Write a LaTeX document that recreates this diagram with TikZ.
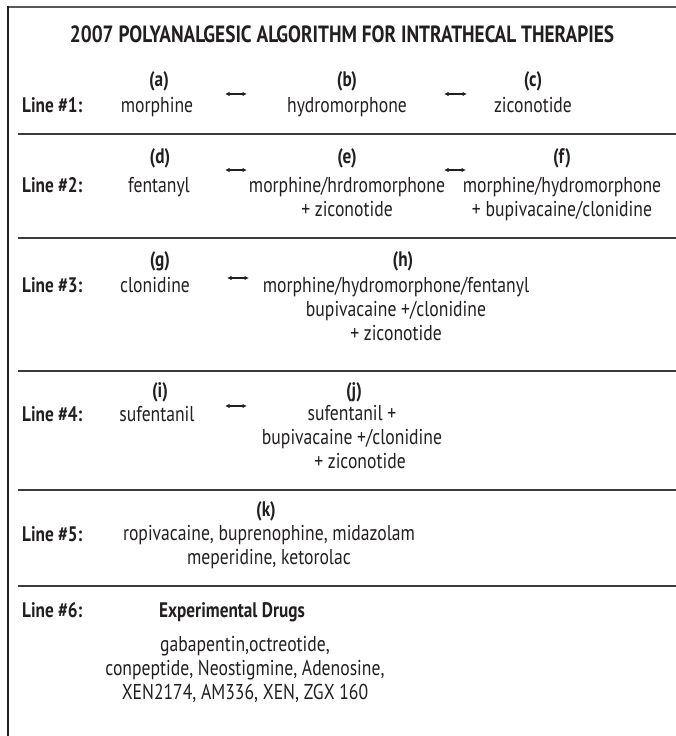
\documentclass[tikz,border=0pt]{standalone}
\usepackage{fontspec}
\setmainfont{PT Sans}[FakeStretch=0.82]
\usetikzlibrary{arrows.meta}
\definecolor{ink}{HTML}{231F20}
\definecolor{rulegray}{HTML}{3A3A3A}
\definecolor{framegray}{HTML}{5A5A5A}
\tikzset{
  txt/.style={text=ink, inner sep=0pt, align=center, font=\fontsize{21.5}{24}\selectfont},
  headline/.style={txt, anchor=base, font=\fontsize{23.5}{26}\selectfont\bfseries},
  linelabel/.style={txt, anchor=base west, font=\fontsize{21}{24}\selectfont\bfseries},
  tag/.style={txt, anchor=base, font=\fontsize{21}{24}\selectfont\bfseries},
  drug/.style={txt, anchor=base},
  drugs/.style={txt, anchor=north},
  swap/.style={{Latex[length=4.5pt,width=4.5pt]}-{Latex[length=4.5pt,width=4.5pt]}, line width=1.2pt, draw=ink},
  sep/.style={draw=rulegray, line width=1.3pt},
}
\begin{document}
\begin{tikzpicture}[x=1pt,y=-1pt]
  \useasboundingbox (0,0) rectangle (676,736);
  % outer frame (open at the right and bottom)
  \draw[framegray, line width=1.6pt] (676,7) -- (8,7);
  \draw[ink, line width=1.6pt] (8,6.2) -- (8,736);

  % title
  \node[headline] (title) at (342,42) {2007 POLYANALGESIC ALGORITHM FOR INTRATHECAL THERAPIES};

  % line 1
  \node[linelabel] (l1) at (22,112) {Line \#1:};
  \node[tag] (a) at (159,86) {(a)};
  \node[drug] (an) at (157,112) {morphine};
  \node[tag] (b) at (347,86) {(b)};
  \node[drug] (bn) at (347,112) {hydromorphone};
  \node[tag] (c) at (533,86) {(c)};
  \node[drug] (cn) at (533,112) {ziconotide};
  \coordinate (ab1) at (225,94); \coordinate (ab2) at (247,94);
  \coordinate (bc1) at (444,94); \coordinate (bc2) at (467,94);
  \draw[swap] (ab1) -- (ab2);
  \draw[swap] (bc1) -- (bc2);
  \draw[sep] (18,134) -- (676,134);

  % line 2
  \node[linelabel] (l2) at (22,192) {Line \#2:};
  \node[tag] (d) at (160,163) {(d)};
  \node[drug] (dn) at (159,192) {fentanyl};
  \node[tag] (e) at (347,163) {(e)};
  \node[drugs] (en) at (347,176.5) {morphine/hrdromorphone\\+ ziconotide};
  \node[tag] (f) at (562,163) {(f)};
  \node[drugs] (fn) at (562,176.5) {morphine/hydromorphone\\+ bupivacaine/clonidine};
  \coordinate (de1) at (225,170); \coordinate (de2) at (247,170);
  \coordinate (ef1) at (444,170); \coordinate (ef2) at (466,170);
  \draw[swap] (de1) -- (de2);
  \draw[swap] (ef1) -- (ef2);
  \draw[sep] (18,238) -- (676,238);

  % line 3
  \node[linelabel] (l3) at (22,292) {Line \#3:};
  \node[tag] (g) at (160,266) {(g)};
  \node[drug] (gn) at (155,292) {clonidine};
  \node[tag] (h) at (403,266) {(h)};
  \node[drugs] (hn) at (396,276.5) {morphine/hydromorphone/fentanyl\\bupivacaine +/clonidine\\+ ziconotide};
  \coordinate (gh1) at (227,278); \coordinate (gh2) at (249,278);
  \draw[swap] (gh1) -- (gh2);
  \draw[sep] (18,371) -- (676,371);

  % line 4
  \node[linelabel] (l4) at (22,421) {Line \#4:};
  \node[tag] (i) at (160,397) {(i)};
  \node[drug] (in) at (157,421) {sufentanil};
  \node[tag] (j) at (354,397) {(j)};
  \node[drugs] (jn) at (352,405.5) {sufentanil +\\bupivacaine +/clonidine\\\hspace*{16pt}+ ziconotide};
  \coordinate (ij1) at (225,406); \coordinate (ij2) at (247,406);
  \draw[swap] (ij1) -- (ij2);
  \draw[sep] (18,490) -- (676,490);

  % line 5
  \node[linelabel] (l5) at (22,541) {Line \#5:};
  \node[tag] (k) at (266,516) {(k)};
  \node[drugs] (kn) at (269,525.5) {ropivacaine, buprenophine, midazolam\\meperidine, ketorolac};
  \draw[sep] (18,586) -- (676,586);

  % line 6
  \node[linelabel] (l6) at (22,617) {Line \#6:};
  \node[tag] (exp) at (232,617) {Experimental Drugs};
  \node[drugs] (xn) at (245,636.5) {gabapentin,octreotide,\\conpeptide, Neostigmine, Adenosine,\\XEN2174, AM336, XEN, ZGX 160};
\end{tikzpicture}
\end{document}
